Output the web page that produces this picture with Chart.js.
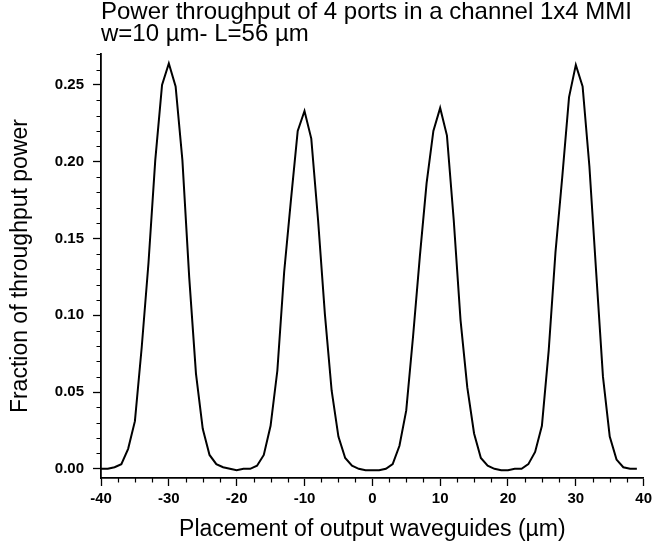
<!DOCTYPE html>
<html>
<head>
<meta charset="utf-8">
<script src="https://cdn.jsdelivr.net/npm/chart.js@4"></script>
<style>
  html, body { margin: 0; padding: 0; background: #fff; }
</style>
</head>
<body>
<canvas id="myChart" width="656" height="547"></canvas>
<script>
// placement of output waveguides (um)
const placement = [
  -40, -39, -38, -37, -36, -35, -34, -33, -32, -31,
  -30, -29, -28, -27, -26, -25, -24, -23, -22, -21,
  -20, -19, -18, -17, -16, -15, -14, -13, -12, -11,
  -10, -9, -8, -7, -6, -5, -4, -3, -2, -1,
  0, 1, 2, 3, 4, 5, 6, 7, 8, 9,
  10, 11, 12, 13, 14, 15, 16, 17, 18, 19,
  20, 21, 22, 23, 24, 25, 26, 27, 28, 29,
  30, 31, 32, 33, 34, 35, 36, 37, 38, 39
];
// fraction of throughput power
const power = [
  0.000, 0.000, 0.001, 0.003, 0.013, 0.031, 0.079, 0.134, 0.201, 0.250,
  0.264, 0.249, 0.201, 0.125, 0.062, 0.026, 0.009, 0.003, 0.001, 0.000,
  -0.001, 0.000, 0.000, 0.002, 0.009, 0.028, 0.064, 0.128, 0.175, 0.220,
  0.233, 0.215, 0.162, 0.101, 0.051, 0.021, 0.007, 0.002, 0.000, -0.001,
  -0.001, -0.001, 0.000, 0.003, 0.015, 0.038, 0.086, 0.138, 0.186, 0.220,
  0.235, 0.217, 0.162, 0.097, 0.053, 0.023, 0.007, 0.002, 0.000, -0.001,
  -0.001, 0.000, 0.000, 0.003, 0.011, 0.028, 0.077, 0.141, 0.190, 0.242,
  0.263, 0.249, 0.197, 0.128, 0.060, 0.021, 0.006, 0.001, 0.000, 0.000
];
const xTicks = [-40, -30, -20, -10, 0, 10, 20, 30, 40];
const yTicks = [0, 0.05, 0.10, 0.15, 0.20, 0.25];

const font = "'Liberation Sans', Arial, sans-serif";
Chart.defaults.font.family = font;
Chart.defaults.color = '#000';

// short minor ticks between the labelled ones
const minorTicks = {
  id: 'minorTicks',
  afterDraw(chart) {
    const ctx = chart.ctx;
    const x = chart.scales.x, y = chart.scales.y;
    ctx.save();
    ctx.strokeStyle = '#000';
    ctx.lineWidth = 1.2;
    ctx.beginPath();
    for (let v = -40; v <= 40; v += 2.5) {
      if (v % 10 === 0) continue;
      const px = Math.round(x.getPixelForValue(v)) + 0.5;
      ctx.moveTo(px, x.top);
      ctx.lineTo(px, x.top + 4.5);
    }
    for (let i = 1; i <= 27; i++) {
      if (i % 5 === 0) continue;
      const py = Math.round(y.getPixelForValue(i / 100)) + 0.5;
      ctx.moveTo(y.right, py);
      ctx.lineTo(y.right - 4.5, py);
    }
    ctx.stroke();
    ctx.restore();
  }
};

let myChart = new Chart(document.getElementById('myChart').getContext('2d'), {
  type: 'line',
  data: {
    datasets: [{
      data: placement.map((p, i) => ({x: p, y: power[i]})),
      borderColor: '#000',
      borderWidth: 2,
      pointRadius: 0,
      tension: 0,
      fill: false
    }]
  },
  options: {
    responsive: false,
    animation: false,
    layout: {
      padding: {left: 0, right: 9, top: 0, bottom: 0}
    },
    plugins: {
      legend: {display: false},
      tooltip: {enabled: false},
      title: {
        display: true,
        text: ['Power throughput of 4 ports in a channel 1x4 MMI', 'w=10 \u00b5m- L=56 \u00b5m'],
        align: 'start',
        fullSize: false,
        color: '#000',
        font: {size: 24, weight: 'normal', lineHeight: 0.92},
        padding: {top: 1, bottom: 9}
      }
    },
    scales: {
      x: {
        type: 'linear',
        min: -40,
        max: 40,
        afterBuildTicks: s => { s.ticks = xTicks.map(v => ({value: v})); },
        afterFit: s => { s.height = 69; },
        border: {display: true, color: '#000', width: 1.8},
        grid: {drawOnChartArea: false, drawTicks: true, tickLength: 8, tickColor: '#000', tickWidth: 1.3},
        ticks: {font: {size: 15, weight: 'bold'}, padding: 4, maxRotation: 0},
        title: {
          display: true,
          text: 'Placement of output waveguides (\u00b5m)',
          font: {size: 23, weight: 'normal'},
          padding: {top: 0, bottom: 4}
        }
      },
      y: {
        type: 'linear',
        min: -0.006,
        max: 0.27,
        afterBuildTicks: s => { s.ticks = yTicks.map(v => ({value: v})); },
        afterFit: s => { s.width = 101; },
        border: {display: true, color: '#000', width: 1.8},
        grid: {drawOnChartArea: false, drawTicks: true, tickLength: 8, tickColor: '#000', tickWidth: 1.3},
        ticks: {
          font: {size: 15, weight: 'bold'},
          padding: 9,
          callback: v => v.toFixed(2)
        },
        title: {
          display: true,
          text: 'Fraction of throughput power',
          font: {size: 23, weight: 'normal'},
          padding: {top: 7, bottom: 0}
        }
      }
    }
  },
  plugins: [minorTicks]
});
</script>
</body>
</html>
